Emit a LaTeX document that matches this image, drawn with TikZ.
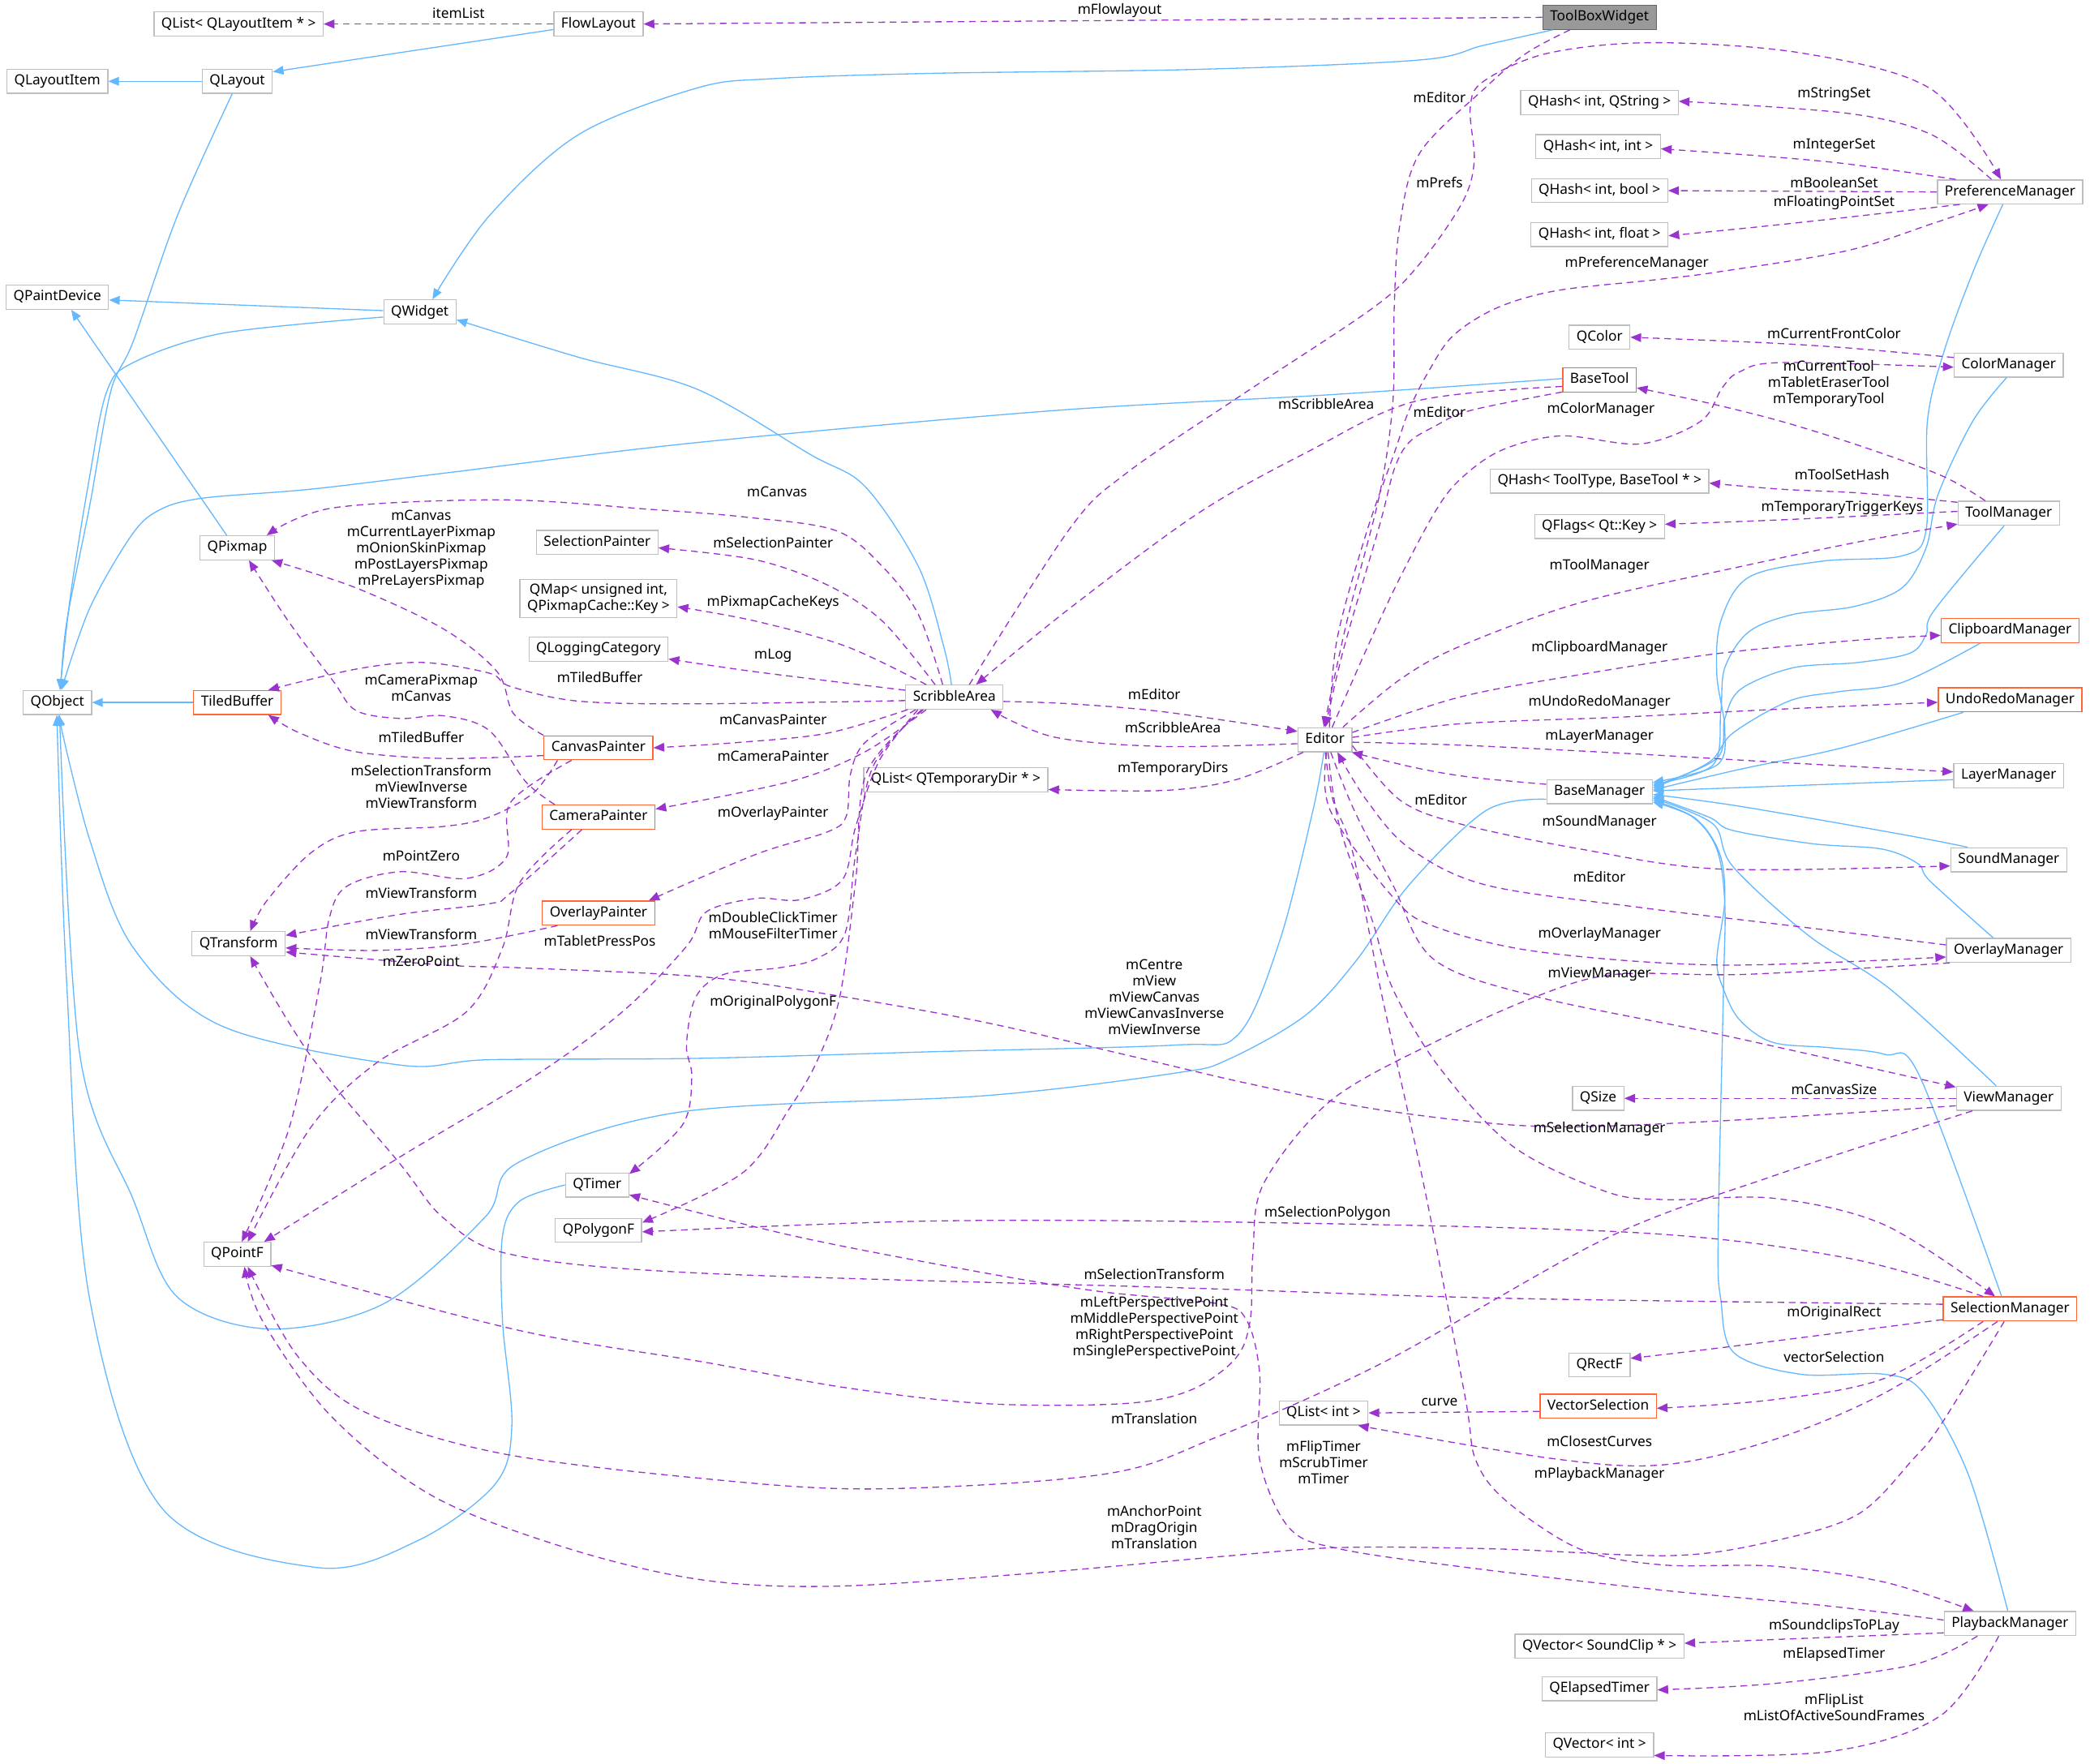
\documentclass[tikz,border=0pt]{standalone}
\usepackage{fontspec}
\newfontfamily\dxfont{Noto Sans}
\usetikzlibrary{arrows.meta}
\definecolor{inhblue}{RGB}{99,184,255}
\definecolor{depurple}{RGB}{154,50,205}
\definecolor{nodegray}{RGB}{191,191,191}
\definecolor{truncred}{RGB}{255,102,51}
\definecolor{mainfill}{RGB}{153,153,153}
\definecolor{mainborder}{RGB}{102,102,102}
\newcommand\dxsize{\dxfont\fontsize{10.5}{12.2}\selectfont}
\begin{document}
\begin{tikzpicture}[x=1pt,y=-1pt,
 cls/.style={draw=nodegray, fill=white, line width=0.8pt, inner xsep=5.5pt, inner ysep=1pt, minimum height=18pt, font=\dxsize, align=center, text height=8pt, text depth=2.6pt},
 cls2/.style={draw=nodegray, fill=white, line width=0.8pt, inner xsep=5.5pt, inner ysep=3pt, font=\dxsize, align=center},
 trunc/.style={cls, draw=truncred},
 focus/.style={cls, draw=mainborder, fill=mainfill},
 lab/.style={font=\dxsize, align=center, inner sep=0pt},
 inh/.style={draw=inhblue, line width=0.8pt, -{Triangle[length=8pt,width=6.5pt]}},
 dep/.style={draw=depurple, line width=0.8pt, dash pattern=on 5pt off 3.5pt, -{Triangle[length=8pt,width=6.5pt]}},
 dnoarr/.style={draw=depurple, line width=0.8pt, dash pattern=on 5pt off 3.5pt}
]
\fill[white] (0,0) rectangle (1568,1323);
\useasboundingbox (0,0) rectangle (1568,1323);

% ---------------- nodes
\node[cls] (QListLI) at (179,18) {QList< QLayoutItem * >};
\node[cls] (FlowLayout) at (449,18) {FlowLayout};
\node[focus] (ToolBoxWidget) at (1200,13) {ToolBoxWidget};
\node[cls] (QLayoutItem) at (43,61) {QLayoutItem};
\node[cls] (QLayout) at (178,61) {QLayout};
\node[cls] (QPaintDevice) at (43,223) {QPaintDevice};
\node[cls] (QWidget) at (315,234) {QWidget};
\node[cls] (QPixmap) at (178,411) {QPixmap};
\node[cls] (QObject) at (43,527) {QObject};
\node[trunc] (TiledBuffer) at (178,527) {TiledBuffer};
\node[cls] (QTransform) at (179,708) {QTransform};
\node[cls] (QPointF) at (178,941) {QPointF};
\node[cls] (SelectionPainter) at (448,407) {SelectionPainter};
\node[cls2] (QMap) at (449,449) {QMap< unsigned int,\\ QPixmapCache::Key >};
\node[cls] (QLoggingCategory) at (449,487) {QLoggingCategory};
\node[trunc] (CanvasPainter) at (449,561) {CanvasPainter};
\node[trunc] (CameraPainter) at (449,613) {CameraPainter};
\node[trunc] (OverlayPainter) at (449,685) {OverlayPainter};
\node[cls] (ScribbleArea) at (716,523) {ScribbleArea};
\node[cls] (QListTD) at (717,585) {QList< QTemporaryDir * >};
\node[cls] (QTimer) at (448,889) {QTimer};
\node[cls] (QPolygonF) at (449,923) {QPolygonF};
\node[cls] (Editor) at (994,555) {Editor};
\node[cls] (QHashStr) at (1200,77) {QHash< int, QString >};
\node[cls] (QHashInt) at (1199,110) {QHash< int, int >};
\node[cls] (QHashBool) at (1200,143) {QHash< int, bool >};
\node[cls] (QHashFloat) at (1200,176) {QHash< int, float >};
\node[cls] (PreferenceManager) at (1508,144) {PreferenceManager};
\node[cls] (QColor) at (1200,253) {QColor};
\node[cls] (ColorManager) at (1507,274) {ColorManager};
\node[trunc] (BaseTool) at (1200,285) {BaseTool};
\node[cls] (QHashTool) at (1200,361) {QHash< ToolType, BaseTool * >};
\node[cls] (QFlags) at (1200,395) {QFlags< Qt::Key >};
\node[cls] (ToolManager) at (1507,385) {ToolManager};
\node[trunc] (ClipboardManager) at (1508,473) {ClipboardManager};
\node[trunc] (UndoRedoManager) at (1508,525) {UndoRedoManager};
\node[cls] (LayerManager) at (1507,582) {LayerManager};
\node[cls] (BaseManager) at (1200,594) {BaseManager};
\node[cls] (SoundManager) at (1507,645) {SoundManager};
\node[cls] (OverlayManager) at (1507,713) {OverlayManager};
\node[cls] (QSize) at (1199,824) {QSize};
\node[cls] (ViewManager) at (1507,824) {ViewManager};
\node[trunc] (SelectionManager) at (1508,982) {SelectionManager};
\node[cls] (QRectF) at (1200,1024) {QRectF};
\node[cls] (QListInt) at (993,1060) {QList< int >};
\node[trunc] (VectorSelection) at (1199,1055) {VectorSelection};
\node[cls] (PlaybackManager) at (1508,1218) {PlaybackManager};
\node[cls] (QVectorSC) at (1200,1235) {QVector< SoundClip * >};
\node[cls] (QElapsedTimer) at (1200,1267) {QElapsedTimer};
\node[cls] (QVectorInt) at (1200,1309) {QVector< int >};

% ---------------- inheritance (blue)
\draw[inh] (FlowLayout.-173) -- (QLayout.15);
\draw[inh] (QLayout.west) -- (QLayoutItem.east);
\draw[inh] plot[smooth,tension=.55] coordinates {(QLayout.-112) (133,162) (100,256) (83,294) (67,381) (50,467) (QObject.75)};
\draw[inh] plot[smooth,tension=.55] coordinates {(ToolBoxWidget.-165) (1113,34) (1065,45) (900,52) (700,55) (580,59) (523,66) (434,101) (367,162) (QWidget.45)};
\draw[inh] (QWidget.178) -- (QPaintDevice.-3);
\draw[inh] plot[smooth,tension=.55] coordinates {(QWidget.-172) (167,250) (100,272) (80,294) (67,359) (53,446) (QObject.78)};
\draw[inh] (QPixmap.130) -- (QPaintDevice.-42);
\draw[inh] plot[smooth,tension=.55] coordinates {(ScribbleArea.103) (708,485) (689,425) (649,365) (608,341) (523,292) (434,268) (QWidget.-12)};
\draw[inh] plot[smooth,tension=.55] coordinates {(BaseTool.178) (1000,296) (791,308) (523,332) (333,355) (233,367) (150,374) (117,384) (97,404) (67,457) (QObject.72)};
\draw[inh] (TiledBuffer.west) -- (QObject.east);
\draw[inh] plot[smooth,tension=.55] coordinates {(Editor.-95) (985,608) (960,706) (929,776) (882,784) (700,789) (523,794) (367,795) (300,799) (167,770) (100,711) (67,629) (QObject.-85)};
\draw[inh] plot[smooth,tension=.55] coordinates {(BaseManager.-172) (1115,608) (1057,664) (1018,720) (979,762) (921,795) (882,805) (739,822) (512,834) (389,872) (364,913) (288,978) (202,997) (133,973) (100,900) (60,792) (QObject.-80)};
\draw[inh] plot[smooth,tension=.55] coordinates {(QTimer.west) (390,901) (377,927) (377,991) (384,1070) (371,1114) (313,1156) (238,1176) (122,1132) (67,973) (50,737) (QObject.-92)};
\draw[inh] plot[smooth,tension=.55] coordinates {(PreferenceManager.-120) (1481,202) (1459,262) (1446,316) (1445,398) (1427,417) (1367,421) (1312,433) (1291,466) (1288,506) (1294,547) (1288,574) (BaseManager.10)};
\draw[inh] plot[smooth,tension=.55] coordinates {(ColorManager.-100) (1480,316) (1454,371) (1445,411) (1427,441) (1391,455) (1345,461) (1312,474) (1294,501) (1291,534) (1285,574) (BaseManager.8)};
\draw[inh] plot[smooth,tension=.55] coordinates {(ToolManager.-110) (1451,458) (1445,476) (1433,490) (1394,497) (1345,501) (1306,517) (1294,539) (1288,569) (BaseManager.6)};
\draw[inh] plot[smooth,tension=.55] coordinates {(ClipboardManager.-157) (1427,512) (1379,519) (1342,526) (1300,550) (1282,572) (BaseManager.4)};
\draw[inh] plot[smooth,tension=.55] coordinates {(UndoRedoManager.-165) (1382,561) (1306,577) (BaseManager.2)};
\draw[inh] (LayerManager.-176) -- (BaseManager.1);
\draw[inh] plot[smooth,tension=.55] coordinates {(SoundManager.163) (1427,626) (1306,605) (BaseManager.-3)};
\draw[inh] plot[smooth,tension=.55] coordinates {(OverlayManager.141) (1448,661) (1439,648) (1412,637) (1360,633) (1300,623) (1282,613) (BaseManager.-5)};
\draw[inh] plot[smooth,tension=.55] coordinates {(ViewManager.135) (1418,742) (1357,702) (1300,650) (1285,618) (BaseManager.-7)};
\draw[inh] plot[smooth,tension=.55] coordinates {(SelectionManager.124) (1440,807) (1414,791) (1373,786) (1330,782) (1305,765) (1293,742) (1288,720) (1294,675) (1290,640) (1272,614) (BaseManager.-9)};
\draw[inh] plot[smooth,tension=.55] coordinates {(PlaybackManager.100) (1477,1107) (1443,1045) (1414,1031) (1351,1031) (1301,1015) (1291,975) (1289,929) (1293,742) (1294,678) (1288,637) (1270,613) (BaseManager.-11)};

% ---------------- usage (purple dashed)
\draw[dep] (ToolBoxWidget.west) -- (FlowLayout.east);
\draw[dep] (FlowLayout.west) -- (QListLI.east);
\draw[dep] plot[smooth,tension=.55] coordinates {(ToolBoxWidget.-157) (1145,40) (1113,67) (1065,115) (1050,170) (1046,231) (1045,301) (1035,371) (1011,464) (Editor.95)};
\draw[dep] plot[smooth,tension=.55] coordinates {(ScribbleArea.40) (803,396) (845,355) (932,296) (1030,231) (1065,198) (1097,152) (1106,121) (1103,81) (1113,61) (1161,40) (1241,32) (1353,40) (1449,67) (PreferenceManager.126)};
\draw[dep] plot[smooth,tension=.55] coordinates {(Editor.70) (1003,480) (1025,400) (1046,340) (1057,308) (1071,280) (1090,252) (1123,231) (1168,218) (1241,210) (1289,204) (1386,188) (1449,168) (PreferenceManager.-150)};
\draw[dep] plot[smooth,tension=.55] coordinates {(Editor.60) (1027,483) (1049,436) (1076,385) (1095,360) (1126,338) (1171,327) (1231,333) (1276,316) (1292,291) (1305,279) (1337,272) (ColorManager.-178)};
\draw[dep] plot[smooth,tension=.55] coordinates {(BaseTool.-162) (1103,308) (1076,320) (1057,332) (1046,352) (1035,394) (1008,487) (Editor.88)};
\draw[dep] plot[smooth,tension=.55] coordinates {(BaseTool.-170) (1062,301) (981,339) (899,385) (803,456) (ScribbleArea.30)};
\draw[dep] plot[smooth,tension=.55] coordinates {(Editor.35) (1050,510) (1095,485) (1186,452) (1306,425) (1397,406) (ToolManager.-168)};
\draw[dep] plot[smooth,tension=.55] coordinates {(Editor.15) (1095,523) (1186,506) (1291,490) (1397,480) (ClipboardManager.-176)};
\draw[dep] plot[smooth,tension=.55] coordinates {(Editor.5) (1095,543) (1216,538) (1336,532) (UndoRedoManager.-178)};
\draw[dep] plot[smooth,tension=.55] coordinates {(Editor.-5) (1095,559) (1216,565) (1336,572) (LayerManager.176)};
\draw[dep] plot[smooth,tension=.55] coordinates {(Editor.-12) (1050,600) (1095,618) (1186,637) (1291,652) (SoundManager.-174)};
\draw[dep] plot[smooth,tension=.55] coordinates {(Editor.-82) (998,608) (1045,673) (1076,695) (1154,714) (1291,724) (OverlayManager.-174)};
\draw[dep] plot[smooth,tension=.55] coordinates {(Editor.-65) (1016,608) (1045,664) (1076,720) (1154,748) (1290,776) (ViewManager.168)};
\draw[dep] plot[smooth,tension=.55] coordinates {(Editor.-76) (1005,620) (1030,692) (1045,742) (1080,801) (1135,860) (1205,894) (1250,900) (1331,899) (1414,919) (SelectionManager.140)};
\draw[dep] plot[smooth,tension=.55] coordinates {(Editor.-88) (1000,600) (1015,640) (1037,748) (1068,888) (1099,1047) (1107,1095) (1130,1126) (1185,1162) (1247,1174) (1331,1175) (1414,1187) (PlaybackManager.161)};
\draw[dep] plot[smooth,tension=.55] coordinates {(OverlayManager.175) (1348,695) (1232,681) (1115,664) (1057,636) (1025,600) (Editor.-45)};
\draw[dep] plot[smooth,tension=.55] coordinates {(BaseManager.172) (1103,583) (1062,576) (Editor.-25)};
\draw[dep] plot[smooth,tension=.55] coordinates {(ScribbleArea.-5) (803,528) (873,534) (Editor.163)};
\draw[dep] plot[smooth,tension=.55] coordinates {(Editor.-172) (873,560) (791,553) (ScribbleArea.-19)};
\draw[dep] plot[smooth,tension=.55] coordinates {(Editor.-150) (927,585) (873,593) (QListTD.-6)};
% ScribbleArea members
\draw[dep] plot[smooth,tension=.55] coordinates {(ScribbleArea.133) (689,461) (662,425) (627,398) (560,388) (486,382) (377,375) (250,381) (QPixmap.23)};
\draw[dep] plot[smooth,tension=.55] coordinates {(ScribbleArea.147) (662,466) (621,439) (567,420) (SelectionPainter.-5)};
\draw[dep] plot[smooth,tension=.55] coordinates {(ScribbleArea.156) (635,485) (567,466) (QMap.-6)};
\draw[dep] plot[smooth,tension=.55] coordinates {(ScribbleArea.172) (567,504) (QLoggingCategory.-8)};
\draw[dep] plot[smooth,tension=.55] coordinates {(ScribbleArea.184) (523,528) (434,526) (383,515) (367,505) (317,497) (267,502) (TiledBuffer.22)};
\draw[dep] plot[smooth,tension=.55] coordinates {(ScribbleArea.-165) (621,550) (554,557) (CanvasPainter.east)};
\draw[dep] plot[smooth,tension=.55] coordinates {(ScribbleArea.-156) (649,564) (594,586) (CameraPainter.8)};
\draw[dep] plot[smooth,tension=.55] coordinates {(ScribbleArea.-162) (649,557) (638,581) (635,612) (621,624) (567,641) (OverlayPainter.14)};
\draw[dep] plot[smooth,tension=.55] coordinates {(ScribbleArea.-161) (660,570) (642,620) (632,660) (600,675) (567,674) (530,684) (515,710) (467,759) (400,808) (300,868) (QPointF.25)};
\draw[dep] plot[smooth,tension=.55] coordinates {(ScribbleArea.-159) (655,575) (642,640) (634,700) (613,719) (585,726) (543,731) (522,748) (515,784) (519,808) (512,844) (QTimer.19)};
\draw[dep] plot[smooth,tension=.55] coordinates {(ScribbleArea.-158) (650,580) (642,660) (630,748) (613,796) (592,832) (557,880) (QPolygonF.10)};
% painters
\draw[dep] plot[smooth,tension=.55] coordinates {(CanvasPainter.north west) (385,535) (373,504) (333,472) (267,441) (QPixmap.-20)};
\draw[dep] plot[smooth,tension=.55] coordinates {(CanvasPainter.-172) (333,569) (267,564) (225,550) (TiledBuffer.-22)};
\draw[dep] plot[smooth,tension=.55] coordinates {(CanvasPainter.-163) (400,595) (367,613) (333,620) (267,624) (233,640) (200,676) (QTransform.47)};
\draw[dep] plot[smooth,tension=.55] coordinates {(CanvasPainter.-155) (383,602) (380,643) (350,659) (300,654) (260,665) (247,689) (240,738) (217,846) (QPointF.70)};
\draw[dep] plot[smooth,tension=.55] coordinates {(CameraPainter.164) (394,586) (367,548) (333,537) (300,539) (267,533) (250,511) (217,467) (QPixmap.-47)};
\draw[dep] plot[smooth,tension=.55] coordinates {(CameraPainter.-143) (383,670) (367,678) (300,686) (QTransform.10)};
\draw[dep] plot[smooth,tension=.55] coordinates {(CameraPainter.-155) (390,662) (377,711) (350,759) (283,797) (233,846) (QPointF.50)};
\draw[dep] plot[smooth,tension=.55] coordinates {(OverlayPainter.-163) (350,708) (283,713) (QTransform.-5)};
% managers
\draw[dep] (ViewManager.west) -- (QSize.east);
\draw[dep] plot[smooth,tension=.55] coordinates {(ViewManager.-172) (1289,841) (1155,845) (1038,833) (937,813) (843,791) (739,767) (634,748) (529,733) (389,726) (333,724) (QTransform.-10)};
\draw[dep] plot[smooth,tension=.55] coordinates {(ViewManager.-161) (1331,882) (1205,929) (1038,1022) (913,1078) (828,1106) (656,1117) (525,1109) (374,1090) (273,1059) (223,1017) (QPointF.-50)};
\draw[dep] plot[smooth,tension=.55] coordinates {(SelectionManager.155) (1387,944) (1232,925) (937,917) (700,916) (QPolygonF.-2)};
\draw[dep] plot[smooth,tension=.55] coordinates {(SelectionManager.176) (1130,974) (882,966) (523,955) (383,941) (333,914) (300,873) (233,792) (QTransform.-47)};
\draw[dep] plot[smooth,tension=.55] coordinates {(SelectionManager.-171) (1300,1010) (QRectF.12)};
\draw[dep] plot[smooth,tension=.55] coordinates {(SelectionManager.-155) (1414,1034) (1331,1050) (VectorSelection.-2)};
\draw[dep] plot[smooth,tension=.55] coordinates {(SelectionManager.-135) (1414,1045) (1331,1080) (1247,1099) (1163,1094) (QListInt.-20)};
\draw[dep] plot[smooth,tension=.55] coordinates {(SelectionManager.-115) (1456,1069) (1435,1095) (1394,1136) (1331,1156) (1255,1167) (1122,1162) (1005,1161) (913,1168) (778,1180) (626,1190) (525,1185) (424,1161) (324,1122) (248,1062) (197,991) (QPointF.-60)};
\draw[dep] (VectorSelection.-175) -- (QListInt.0);
\draw[dep] plot[smooth,tension=.55] coordinates {(PlaybackManager.177) (1373,1205) (1247,1193) (1101,1176) (1005,1162) (967,1146) (945,1095) (945,1030) (935,990) (913,978) (826,969) (739,955) (599,928) (QTimer.-17)};
\draw[dep] plot[smooth,tension=.55] coordinates {(PlaybackManager.-172) (1331,1230) (QVectorSC.2)};
\draw[dep] plot[smooth,tension=.55] coordinates {(PlaybackManager.-159) (1435,1249) (1331,1263) (QElapsedTimer.-1)};
\draw[dep] plot[smooth,tension=.55] coordinates {(PlaybackManager.-132) (1456,1287) (1373,1314) (QVectorInt.-11)};
\draw[dep] plot[smooth,tension=.55] coordinates {(OverlayManager.-168) (1309,731) (1212,731) (1154,747) (1076,782) (998,826) (948,888) (940,940) (938,990) (927,1019) (893,1043) (843,1053) (739,1053) (634,1041) (529,1022) (389,998) (QPointF.-18)};
\draw[dep] plot[smooth,tension=.55] coordinates {(PreferenceManager.146) (1449,101) (1386,85) (QHashStr.1)};
\draw[dep] plot[smooth,tension=.55] coordinates {(PreferenceManager.167) (1386,123) (1321,117) (QHashInt.-2)};
\draw[dep] (PreferenceManager.west) -- (QHashBool.east);
\draw[dep] plot[smooth,tension=.55] coordinates {(PreferenceManager.-166) (1386,163) (1321,170) (QHashFloat.-1)};
\draw[dep] plot[smooth,tension=.55] coordinates {(ColorManager.172) (1386,261) (1321,257) (QColor.east)};
\draw[dep] plot[smooth,tension=.55] coordinates {(ToolManager.152) (1457,357) (1397,335) (1336,316) (1280,302) (BaseTool.-12)};
\draw[dep] plot[smooth,tension=.55] coordinates {(ToolManager.168) (1397,370) (1336,367) (QHashTool.-1)};
\draw[dep] plot[smooth,tension=.55] coordinates {(ToolManager.178) (1336,390) (QFlags.2)};

% ---------------- labels
\node[lab] (l1) at (344,10) {itemList};
\node[lab] (l2) at (840,8) {mFlowlayout};
\node[lab] (l3) at (1080,73) {mEditor};
\node[lab] (l4) at (1376,71) {mStringSet};
\node[lab] (l5) at (1376,109) {mIntegerSet};
\node[lab] (l6) at (1080,137) {mPrefs};
\node[lab] (l7) at (1376,137) {mBooleanSet};
\node[lab] (l8) at (1376,152) {mFloatingPointSet};
\node[lab] (l9) at (1228,198) {mPreferenceManager};
\node[lab] (l10) at (1376,250) {mCurrentFrontColor};
\node[lab] (l11) at (1372,288) {mCurrentTool\\mTabletEraserTool\\mTemporaryTool};
\node[lab] (l12) at (995,303) {mScribbleArea};
\node[lab] (l13) at (1080,309) {mEditor};
\node[lab] (l14) at (1201,307) {mColorManager};
\node[lab] (l15) at (1382,356) {mToolSetHash};
\node[lab] (l16) at (1382,381) {mTemporaryTriggerKeys};
\node[lab] (l17) at (1200,425) {mToolManager};
\node[lab] (l18) at (1200,486) {mClipboardManager};
\node[lab] (l19) at (1200,527) {mUndoRedoManager};
\node[lab] (l20) at (1200,553) {mLayerManager};
\node[lab] (l21) at (1081,600) {mEditor};
\node[lab] (l22) at (1200,617) {mSoundManager};
\node[lab] (l23) at (1200,658) {mEditor};
\node[lab] (l24) at (1200,701) {mOverlayManager};
\node[lab] (l25) at (1200,731) {mViewManager};
\node[lab] (l26) at (1376,817) {mCanvasSize};
\node[lab] (l27) at (1200,847) {mSelectionManager};
\node[lab] (l28) at (996,910) {mSelectionPolygon};
\node[lab] (l29) at (1376,985) {mOriginalRect};
\node[lab] (l30) at (1376,1018) {vectorSelection};
\node[lab] (l31) at (1080,1052) {curve};
\node[lab] (l32) at (1200,1081) {mClosestCurves};
\node[lab] (l33) at (1200,1106) {mPlaybackManager};
\node[lab] (l34) at (993,1097) {mFlipTimer\\mScrubTimer\\mTimer};
\node[lab] (l35) at (1376,1220) {mSoundclipsToPLay};
\node[lab] (l36) at (1376,1241) {mElapsedTimer};
\node[lab] (l37) at (1376,1281) {mFlipList\\mListOfActiveSoundFrames};
\node[lab] (l38) at (583,369) {mCanvas};
\node[lab] (l39) at (316,412) {mCanvas\\mCurrentLayerPixmap\\mOnionSkinPixmap\\mPostLayersPixmap\\mPreLayersPixmap};
\node[lab] (l40) at (580,407) {mSelectionPainter};
\node[lab] (l41) at (580,452) {mPixmapCacheKeys};
\node[lab] (l42) at (580,492) {mLog};
\node[lab] (l43) at (450,508) {mTiledBuffer};
\node[lab] (l44) at (316,516) {mCameraPixmap\\mCanvas};
\node[lab] (l45) at (866,521) {mEditor};
\node[lab] (l46) at (580,540) {mCanvasPainter};
\node[lab] (l47) at (880,546) {mScribbleArea};
\node[lab] (l48) at (316,553) {mTiledBuffer};
\node[lab] (l49) at (580,567) {mCameraPainter};
\node[lab] (l50) at (880,577) {mTemporaryDirs};
\node[lab] (l51) at (316,590) {mSelectionTransform\\mViewInverse\\mViewTransform};
\node[lab] (l52) at (580,610) {mOverlayPainter};
\node[lab] (l53) at (316,642) {mPointZero};
\node[lab] (l54) at (316,670) {mViewTransform};
\node[lab] (l55) at (580,694) {mDoubleClickTimer\\mMouseFilterTimer};
\node[lab] (l56) at (316,701) {mViewTransform};
\node[lab] (l57) at (450,706) {mTabletPressPos};
\node[lab] (l58) at (316,721) {mZeroPoint};
\node[lab] (l59) at (866,748) {mCentre\\mView\\mViewCanvas\\mViewCanvasInverse\\mViewInverse};
\node[lab] (l60) at (580,752) {mOriginalPolygonF};
\node[lab] (l61) at (866,956) {mSelectionTransform};
\node[lab] (l62) at (866,996) {mLeftPerspectivePoint\\mMiddlePerspectivePoint\\mRightPerspectivePoint\\mSinglePerspectivePoint};
\node[lab] (l63) at (866,1064) {mTranslation};
\node[lab] (l64) at (866,1146) {mAnchorPoint\\mDragOrigin\\mTranslation};
\end{tikzpicture}
\end{document}
